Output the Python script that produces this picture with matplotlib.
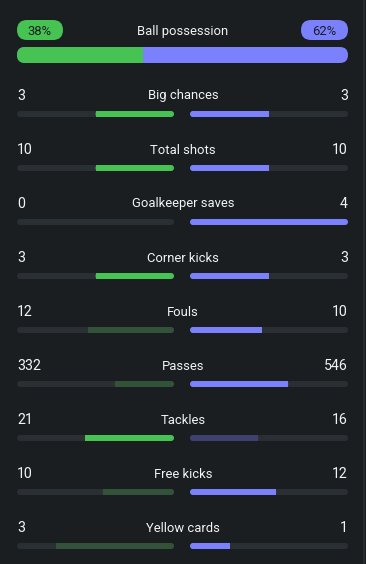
import matplotlib
matplotlib.use("Agg")
import matplotlib.pyplot as plt
from matplotlib.patches import FancyBboxPatch, Rectangle

# data
possession_home = 38
possession_away = 62
stats = ["Big chances", "Total shots", "Goalkeeper saves", "Corner kicks", "Fouls",
         "Passes", "Tackles", "Free kicks", "Yellow cards"]
home = [3, 10, 0, 3, 12, 332, 21, 10, 3]
away = [3, 10, 4, 3, 10, 546, 16, 12, 1]
lower_better = [False, False, False, False, True, False, False, False, True]

# colours
bg = "#1a1e21"
track = "#2a2f33"
green = "#46c352"
green_dim = "#325339"
blue = "#7b80fc"
blue_dim = "#3e4170"
white = "#f2f3f5"

W, H = 366, 564
fig = plt.figure(figsize=(W / 100, H / 100), dpi=100, facecolor=bg)
ax = fig.add_axes([0, 0, 1, 1])
ax.set_xlim(0, W)
ax.set_ylim(H, 0)
ax.axis("off")
ax.set_facecolor(bg)
ax.axvline(363.5, color="#2c3034", lw=1.2)

font = "Roboto"
fs = 9.4


def rbox(x, y, w, h, r, color):
    p = FancyBboxPatch((x + r, y + r), max(w - 2 * r, 0.01), h - 2 * r,
                       boxstyle=f"round,pad={r}", fc=color, ec="none", lw=0)
    ax.add_patch(p)


def rect(x, y, w, h, color):
    ax.add_patch(Rectangle((x, y), w, h, fc=color, ec="none", lw=0))


# ball possession
L0, R1 = 17, 348
rbox(17, 20, 46, 20, 10, green)
rbox(301, 20, 47, 20, 10, blue)
ax.text(40, 35, f"{possession_home}%", color=bg, fontsize=fs, family=font, ha="center", va="baseline")
ax.text(324.5, 35, f"{possession_away}%", color=bg, fontsize=fs, family=font, ha="center", va="baseline")
ax.text(183, 35, "Ball possession", color=white, fontsize=fs, family=font, ha="center", va="baseline")

split = L0 + (R1 - L0) * possession_home / (possession_home + possession_away)
rbox(L0, 47, R1 - L0, 16, 8, blue)
rbox(L0, 47, split - L0, 16, 8, green)
rect(split - 9, 47, 9, 16, green)

# stat rows
lx0, lx1 = 17, 174
rx0, rx1 = 190, 348
bh = 6
for i, name in enumerate(stats):
    ty = 99.5 + 54 * i
    by = 111 + 54 * i
    h, a = home[i], away[i]
    ax.text(183, ty, name, color=white, fontsize=fs, family=font, ha="center", va="baseline")
    ax.text(lx0, ty, str(h), color=white, fontsize=fs + 0.8, family=font, ha="left", va="baseline")
    ax.text(rx1, ty, str(a), color=white, fontsize=fs + 0.8, family=font, ha="right", va="baseline")

    tot = h + a
    fh = h / tot if tot else 0
    fa = a / tot if tot else 0
    if lower_better[i]:
        hb, ab = h <= a, a <= h
    else:
        hb, ab = h >= a, a >= h
    hc = green if hb else green_dim
    ac = blue if ab else blue_dim

    rbox(lx0, by, lx1 - lx0, bh, 3, track)
    rbox(rx0, by, rx1 - rx0, bh, 3, track)

    wl = (lx1 - lx0) * fh
    if wl > 0:
        rbox(lx1 - wl, by, wl, bh, 3, hc)
        if fh < 1:
            rect(lx1 - wl, by, min(4, wl), bh, hc)
    wr = (rx1 - rx0) * fa
    if wr > 0:
        rbox(rx0, by, wr, bh, 3, ac)
        if fa < 1:
            rect(rx0 + wr - min(4, wr), by, min(4, wr), bh, ac)

fig.savefig("out.png", dpi=100, facecolor=bg)
